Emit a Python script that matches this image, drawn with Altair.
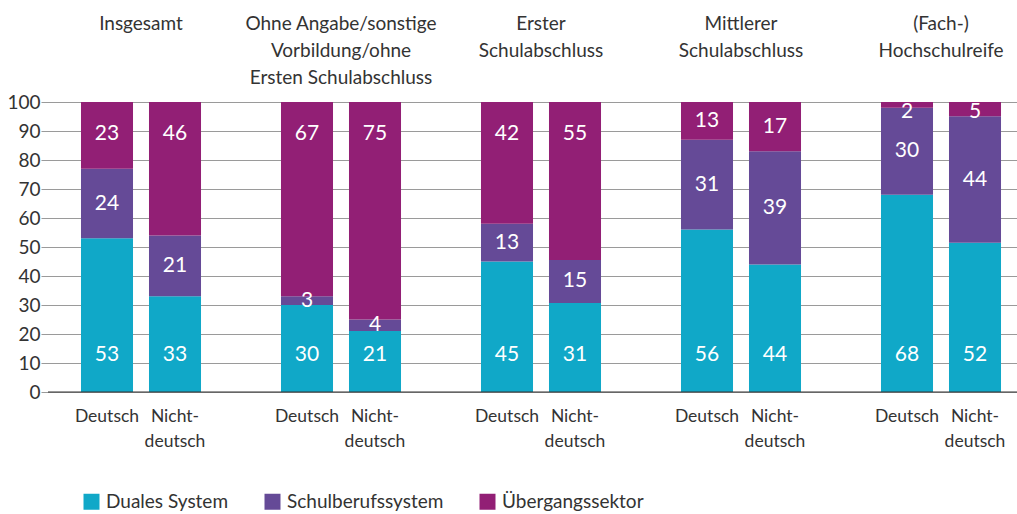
import altair as alt
import pandas as pd

FONT = "Lato"

groups = [
    "Insgesamt",
    "Ohne Angabe/sonstige\nVorbildung/ohne\nErsten Schulabschluss",
    "Erster\nSchulabschluss",
    "Mittlerer\nSchulabschluss",
    "(Fach-)\nHochschulreife",
]
nats = ["Deutsch", "Nicht-\ndeutsch"]
series = ["Duales System", "Schulberufssystem", "Übergangssektor"]
colors = ["#10a8c8", "#654a97", "#921f75"]

# order: for each group -> Deutsch, Nicht-deutsch
duales = [53, 33, 30, 21, 45, 31, 56, 44, 68, 52]
schul = [24, 21, 3, 4, 13, 15, 31, 39, 30, 44]
ueber = [23, 46, 67, 75, 42, 55, 13, 17, 2, 5]
yticks = [0, 10, 20, 30, 40, 50, 60, 70, 80, 90, 100]

rows = []
k = 0
for g in groups:
    for n in nats:
        for o, (s, vals) in enumerate(zip(series, [duales, schul, ueber])):
            rows.append({"group": g, "nat": n, "series": s, "ord": o, "value": vals[k]})
        k += 1
df = pd.DataFrame(rows)

xenc = alt.X("group:N", sort=groups, axis=None,
             scale=alt.Scale(range=[-7, 993], paddingInner=0, paddingOuter=0))
xoff = alt.XOffset("nat:N", sort=nats,
                   scale=alt.Scale(paddingInner=0.235, paddingOuter=0.588))
yscale = alt.Scale(domain=[0, 100], nice=False, zero=True)
yaxis = alt.Axis(values=yticks, labelOverlap=False, domain=False, ticks=False,
                 labelFontSize=19, labelColor="#333333", labelPadding=8,
                 grid=True, gridWidth=1.2, gridColor="#9a9a9a", title=None)

base = alt.Chart(df).transform_joinaggregate(
    total="sum(value)", groupby=["group", "nat"]
).transform_calculate(pct="datum.value / datum.total * 100")

bars = base.mark_bar().encode(
    x=xenc,
    xOffset=xoff,
    y=alt.Y("pct:Q", stack="zero", title=None, scale=yscale, axis=yaxis),
    color=alt.Color("series:N", sort=series,
                    scale=alt.Scale(domain=series, range=colors),
                    legend=alt.Legend(title=None, orient="none", direction="horizontal",
                                      legendX=34, legendY=390, padding=0,
                                      symbolType="square", symbolSize=256,
                                      symbolStrokeWidth=0, labelFontSize=19,
                                      labelColor="#333333", labelOffset=5,
                                      labelLimit=0, columnPadding=34)),
    order=alt.Order("ord:Q"),
)

zero = alt.Chart(pd.DataFrame({"y": [0]})).mark_rule(
    color="#333333", strokeWidth=1.2
).encode(y=alt.Y("y:Q", scale=yscale, axis=yaxis))

labels = base.transform_window(
    cum="sum(pct)", groupby=["group", "nat"], sort=[alt.SortField("ord")], frame=[None, 0]
).transform_calculate(
    mid="datum.cum - datum.pct / 2",
    ly="datum.ord == 0 ? 12.8 : (datum.ord == 1 ? datum.mid : min(max(datum.mid, 89), 96.5))",
).mark_text(color="white", fontSize=21, baseline="middle").encode(
    x=xenc, xOffset=xoff,
    y=alt.Y("ly:Q", title=None, scale=yscale, axis=yaxis),
    text=alt.Text("value:Q"),
)

head_df = pd.DataFrame({"group": groups})
heads = alt.Chart(head_df).mark_text(
    fontSize=19, color="#333333", baseline="alphabetic", lineBreak="\n", lineHeight=27
).encode(x=xenc, y=alt.value(-72), text="group:N")

foot_df = pd.DataFrame([{"group": g, "nat": n} for g in groups for n in nats])
foots = alt.Chart(foot_df).mark_text(
    fontSize=17.5, color="#333333", baseline="alphabetic", lineBreak="\n", lineHeight=25
).encode(x=xenc, xOffset=xoff, y=alt.value(320), text="nat:N")

chart = alt.layer(bars, zero, labels, heads, foots).properties(
    width=969, height=290,
    autosize=alt.AutoSizeParams(type="none"),
    padding={"left": 48, "top": 102, "right": 0, "bottom": 122},
).configure(font=FONT).configure_view(stroke=None)

chart.save("out.html", embed_options={"renderer": "svg", "actions": False})
